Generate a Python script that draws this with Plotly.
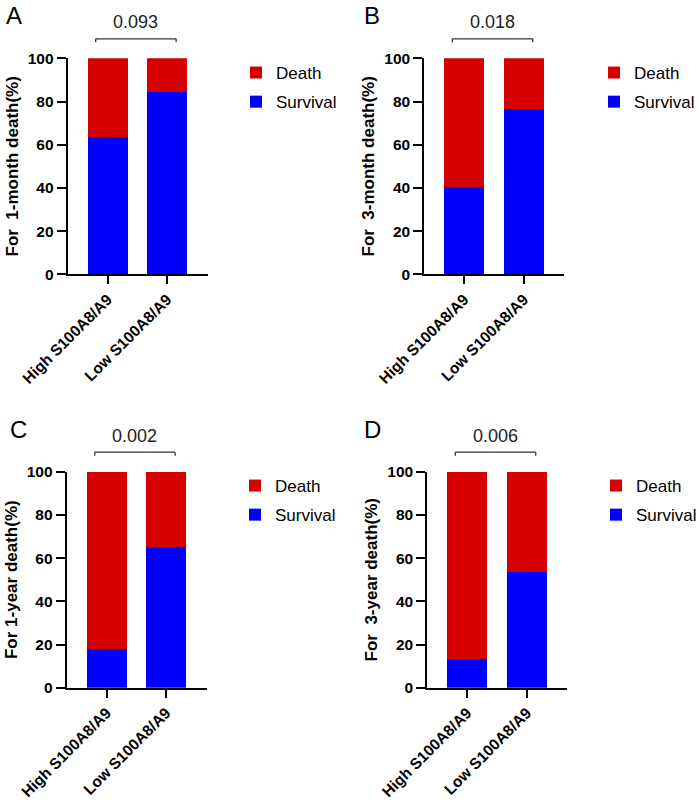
import plotly.graph_objects as go

# ---------------- data ----------------
groups = ["High S100A8/A9", "Low S100A8/A9"]
panel_letters = ["A", "B", "C", "D"]
y_titles = ["For  1-month death(%)", "For  3-month death(%)",
            "For 1-year death(%)", "For  3-year death(%)"]
p_values = ["0.093", "0.018", "0.002", "0.006"]
survival_A = [63.7, 84.3]
survival_B = [40.6, 76.7]
survival_C = [17.9, 65.3]
survival_D = [13.3, 53.4]
survival_all = [survival_A, survival_B, survival_C, survival_D]
death_all = [[100 - v for v in s] for s in survival_all]
y_ticks = [0, 20, 40, 60, 80, 100]

# ---------------- layout geometry (pixels) ----------------
W, H = 699, 803
RED = "#D70000"
BLUE = "#0000FF"
FONT = "Liberation Sans, Arial, sans-serif"
xr = [-0.67, 1.68]
left_px = [67.7, 424.3, 66.7, 427.3]
top_px = [58.3, 58.3, 471.7, 471.7]
plot_w, plot_h = 140, 216
legend_x_px = [236, 594, 235, 596]
legend_top_px = [55, 55, 468, 468]

fig = go.Figure()
layout = dict(
    width=W, height=H, margin=dict(l=0, r=0, t=0, b=0, autoexpand=False),
    paper_bgcolor="white", plot_bgcolor="white",
    font=dict(family=FONT, color="black"),
    barmode="stack", showlegend=True,
)
shapes, annotations = [], []

def dom(v):
    return (v - xr[0]) / (xr[1] - xr[0])

for i in range(4):
    n = "" if i == 0 else str(i + 1)
    xa, ya = "x" + n, "y" + n
    leg = "legend" + n
    fig.add_trace(go.Bar(x=groups, y=survival_all[i], name="Survival",
                         marker=dict(color=BLUE, line=dict(width=0)),
                         width=0.67, xaxis=xa, yaxis=ya, legend=leg,
                         legendgroup="s" + n, legendrank=2))
    fig.add_trace(go.Bar(x=groups, y=death_all[i], name="Death",
                         marker=dict(color=RED, line=dict(width=0)),
                         width=0.67, xaxis=xa, yaxis=ya, legend=leg,
                         legendgroup="d" + n, legendrank=1))
    x0 = left_px[i] / W
    x1 = (left_px[i] + plot_w) / W
    y1 = 1 - top_px[i] / H
    y0 = 1 - (top_px[i] + plot_h) / H
    layout["xaxis" + n] = dict(
        domain=[x0, x1], anchor=ya, range=xr, type="category", automargin=False,
        showline=True, linecolor="black", linewidth=2,
        ticks="outside", ticklen=8, tickwidth=2, tickcolor="black",
        tickangle=-45, showgrid=False, zeroline=False,
        tickfont=dict(family=FONT, size=15.5, color="black", weight="bold"),
    )
    layout["yaxis" + n] = dict(
        domain=[y0, y1], anchor=xa, range=[0, 100], automargin=False,
        tickvals=y_ticks, showline=True, linecolor="black", linewidth=2,
        ticks="outside", ticklen=9, tickwidth=2, tickcolor="black",
        showgrid=False, zeroline=False,
        tickfont=dict(family=FONT, size=15.5, color="black", weight="bold"),
        title=dict(text=y_titles[i], standoff=5,
                   font=dict(family=FONT, size=17, color="black", weight="bold")),
    )
    layout[leg] = dict(
        x=legend_x_px[i] / W, xanchor="left",
        y=1 - legend_top_px[i] / H, yanchor="top",
        traceorder="grouped", tracegroupgap=4,
        font=dict(family=FONT, size=17, color="black"),
        bgcolor="rgba(0,0,0,0)",
    )
    # significance bracket
    bl, br = dom(-0.2), dom(1.15)
    yb, yt = 1 + 19.5 / plot_h, 1 + 16 / plot_h
    for (ax0, ay0, ax1, ay1) in [(bl, yb, br, yb), (bl, yb, bl, yt), (br, yb, br, yt)]:
        shapes.append(dict(type="line", xref=xa + " domain", yref=ya + " domain",
                           x0=ax0, y0=ay0, x1=ax1, y1=ay1,
                           line=dict(color="#333333", width=1.3)))
    annotations.append(dict(text=p_values[i], xref=xa + " domain", yref=ya + " domain",
                            x=(bl + br) / 2, y=1 + 36 / plot_h, showarrow=False,
                            xanchor="center", yanchor="middle",
                            font=dict(family=FONT, size=18, color="#222222")))
    # panel letter
    lx = [4, 362, 8, 362][i]
    ly = [16, 16, 429, 429][i]
    annotations.append(dict(text=panel_letters[i], xref="paper", yref="paper",
                            x=lx / W, y=1 - ly / H, showarrow=False,
                            xanchor="left", yanchor="middle",
                            font=dict(family=FONT, size=24, color="black")))

layout["shapes"] = shapes
layout["annotations"] = annotations
fig.update_layout(**layout)
fig.write_html("out.html")
